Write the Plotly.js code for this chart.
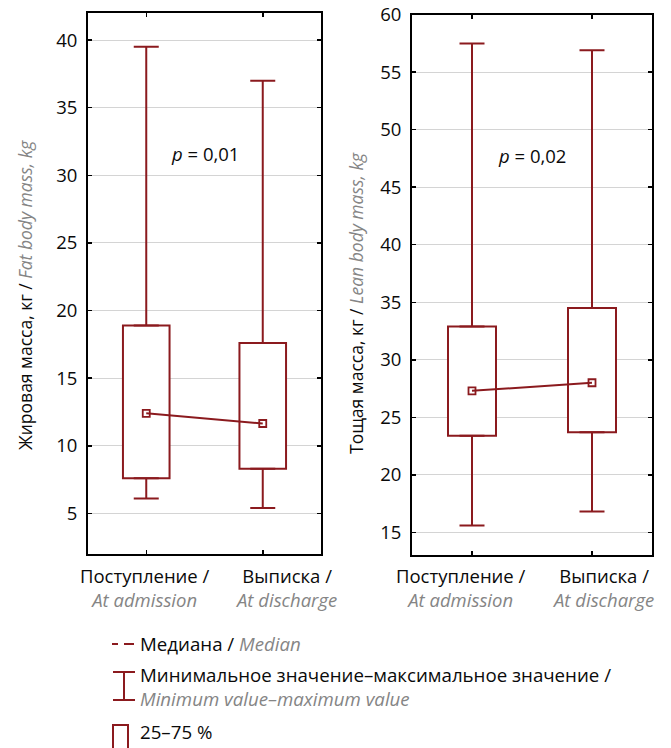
<!DOCTYPE html>
<html><head><meta charset="utf-8">
<script src="https://cdn.plot.ly/plotly-3.0.1.min.js"></script>
<style>html,body{margin:0;padding:0;background:#fff}</style>
</head><body><div id="chart" style="width:671px;height:748px"></div>
<script>
// ---- data ----
const categories = ['Поступление /', 'Выписка /'];
const categoriesEn = ['At admission', 'At discharge'];
const fatMin = [6.1, 5.4];
const fatQ1 = [7.6, 8.3];
const fatMedian = [12.4, 11.65];
const fatQ3 = [18.9, 17.6];
const fatMax = [39.5, 37.0];
const leanMin = [15.6, 16.8];
const leanQ1 = [23.4, 23.7];
const leanMedian = [27.3, 28.0];
const leanQ3 = [32.9, 34.5];
const leanMax = [57.5, 56.9];
const fatTicks = [5, 10, 15, 20, 25, 30, 35, 40];
const leanTicks = [15, 20, 25, 30, 35, 40, 45, 50, 55, 60];
const pTexts = ['0,01', '0,02'];
const yTitles = [['Жировая масса, кг /', 'Fat body mass, kg'], ['Тощая масса, кг /', 'Lean body mass, kg']];

// ---- style ----
const RED = '#8b1a1e';
const GREY = '#858585';
const INK = '#0a0a0a';
const FONT = 'Open Sans, sans-serif';
const W = 671, H = 748;
const PX = x => x / W, PY = y => 1 - y / H;

function panel(q1, q3, mn, mx, med, xa, ya) {
  const sub = (a, b) => a.map((v, i) => v - b[i]);
  const zeros = q1.map(() => 0);
  return [
    {type: 'bar', x: categories, base: q1, y: sub(q3, q1), width: 0.4, xaxis: xa, yaxis: ya,
     marker: {color: 'white', line: {color: RED, width: 2}}, hoverinfo: 'skip'},
    {type: 'scatter', mode: 'markers', x: categories, y: q3, xaxis: xa, yaxis: ya,
     marker: {size: 1, color: 'rgba(0,0,0,0)'},
     error_y: {type: 'data', symmetric: false, array: sub(mx, q3), arrayminus: zeros, color: RED, thickness: 2, width: 12.5}},
    {type: 'scatter', mode: 'markers', x: categories, y: q1, xaxis: xa, yaxis: ya,
     marker: {size: 1, color: 'rgba(0,0,0,0)'},
     error_y: {type: 'data', symmetric: false, array: zeros, arrayminus: sub(q1, mn), color: RED, thickness: 2, width: 12.5}},
    {type: 'scatter', mode: 'lines+markers', x: categories, y: med, xaxis: xa, yaxis: ya,
     line: {color: RED, width: 2},
     marker: {symbol: 'square-open', size: 7, color: RED, line: {width: 1.8, color: RED}}}
  ];
}

const data = [].concat(
  panel(fatQ1, fatQ3, fatMin, fatMax, fatMedian, 'x', 'y'),
  panel(leanQ1, leanQ3, leanMin, leanMax, leanMedian, 'x2', 'y2')
);

const xax = dom => ({
  domain: dom, type: 'category', range: [-0.5, 1.5], showline: true, linewidth: 2, linecolor: '#000',
  mirror: 'ticks', ticks: 'inside', ticklen: 4, tickwidth: 1.5, tickcolor: '#000',
  showticklabels: false, showgrid: false, zeroline: false, fixedrange: true
});
const yax = (dom, range, ticks) => ({
  domain: dom, range: range, tickmode: 'array', tickvals: ticks, ticktext: ticks.map(String),
  showline: true, linewidth: 2, linecolor: '#000', mirror: 'ticks', ticks: 'inside', ticklen: 4,
  tickwidth: 1.5, tickcolor: '#000', showgrid: true, gridcolor: '#d4d4d4', gridwidth: 1,
  zeroline: false, tickfont: {size: 18.5, color: INK}, ticklabelstandoff: 5, fixedrange: true
});

const gi = t => '<i><span style="color:' + GREY + '">' + t + '</span></i>';

const annotations = [];
// x category labels
const labelShift = [[-1, 23], [-11, 11]];
['x', 'x2'].forEach((xr, p) => {
  categories.forEach((c, i) => {
    annotations.push({xref: xr, yref: 'paper', x: c, y: PY(587), xshift: labelShift[p][i],
      text: c + '<br>' + gi(categoriesEn[i]), showarrow: false, xanchor: 'center', yanchor: 'middle',
      font: {size: 18.5, color: INK}});
  });
});
// y titles
[[25, 295], [356, 303]].forEach((pos, i) => {
  annotations.push({xref: 'paper', yref: 'paper', x: PX(pos[0]), y: PY(pos[1]), textangle: -90,
    text: yTitles[i][0] + ' ' + gi(yTitles[i][1]), showarrow: false, xanchor: 'center', yanchor: 'middle',
    font: {size: 17.5, color: INK}});
});
// p-values
annotations.push({xref: 'x', yref: 'y', x: 0.5, y: 31.6, text: '<i>p</i> = ' + pTexts[0], showarrow: false, font: {size: 18.5, color: INK}});
annotations.push({xref: 'x2', yref: 'y2', x: 0.5, y: 47.8, text: '<i>p</i> = ' + pTexts[1], showarrow: false, font: {size: 18.5, color: INK}});
// legend texts
annotations.push({xref: 'paper', yref: 'paper', x: PX(138), y: PY(643), xanchor: 'left', yanchor: 'middle', showarrow: false,
  text: 'Медиана / ' + gi('Median'), font: {size: 18.7, color: INK}});
annotations.push({xref: 'paper', yref: 'paper', x: PX(138), y: PY(686), xanchor: 'left', yanchor: 'middle', showarrow: false, align: 'left',
  text: 'Минимальное значение–максимальное значение /<br>' + gi('Minimum value–maximum value'), font: {size: 18.7, color: INK}});
annotations.push({xref: 'paper', yref: 'paper', x: PX(138), y: PY(731), xanchor: 'left', yanchor: 'middle', showarrow: false,
  text: '25–75 %', font: {size: 18.7, color: INK}});

const L = (x0, y0, x1, y1) => ({type: 'line', xref: 'paper', yref: 'paper', x0: PX(x0), y0: PY(y0), x1: PX(x1), y1: PY(y1), line: {color: RED, width: 2}});
const shapes = [
  L(112, 644, 118, 644), L(124, 644, 134, 644),
  L(124, 672, 124, 700), L(113, 672, 135, 672), L(113, 700, 135, 700),
  {type: 'path', xref: 'paper', yref: 'paper',
   path: 'M' + PX(113) + ',' + PY(760) + ' L' + PX(113) + ',' + PY(725) + ' L' + PX(128) + ',' + PY(725) + ' L' + PX(128) + ',' + PY(760),
   line: {color: RED, width: 2}}
];

const layout = {
  width: W, height: H, margin: {l: 0, r: 0, t: 0, b: 0},
  paper_bgcolor: '#fff', plot_bgcolor: '#fff', showlegend: false,
  font: {family: FONT, size: 18, color: INK},
  xaxis: xax([PX(88), PX(321)]), yaxis: yax([PY(554), PY(13)], [2, 42], fatTicks),
  xaxis2: xax([PX(412), PX(652)]), yaxis2: yax([PY(555.3), PY(14.7)], [13, 60], leanTicks),
  annotations: annotations, shapes: shapes, barmode: 'overlay'
};
layout.xaxis2.anchor = 'y2'; layout.yaxis2.anchor = 'x2';
layout.xaxis.anchor = 'y'; layout.yaxis.anchor = 'x';

Plotly.newPlot('chart', data, layout, {staticPlot: true, displayModeBar: false});
</script></body></html>
